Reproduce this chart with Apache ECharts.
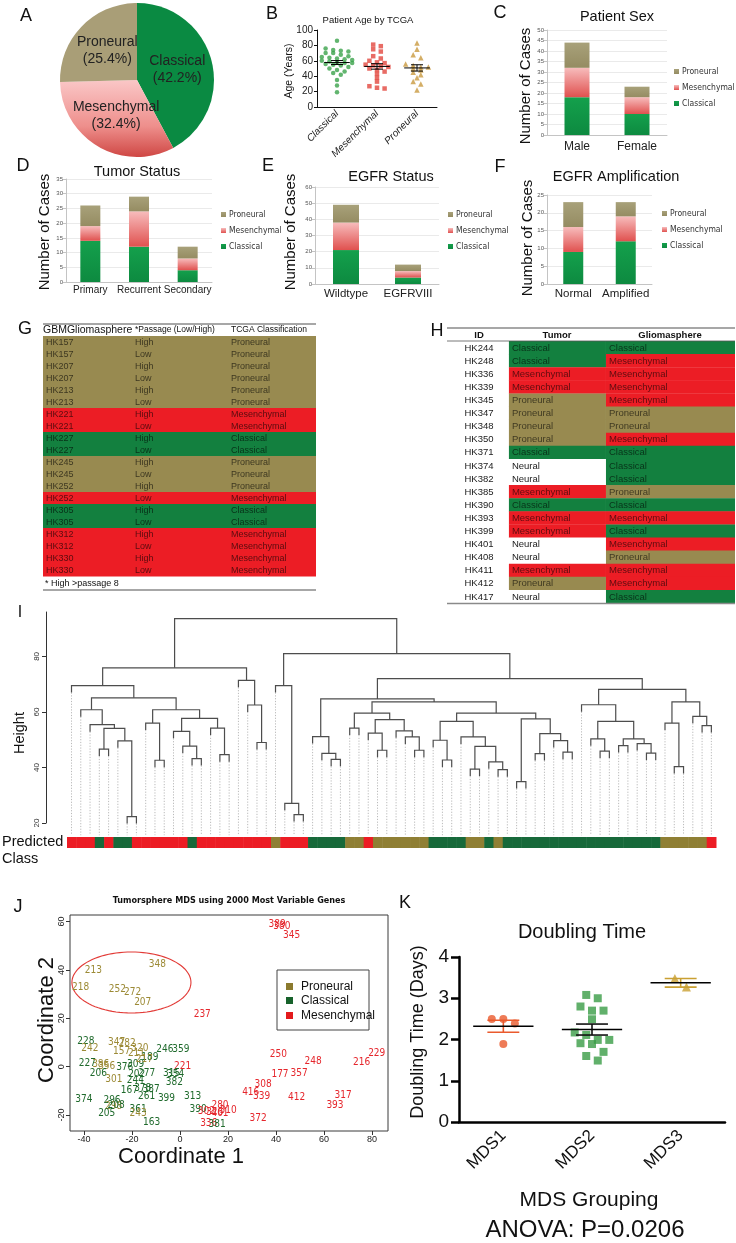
<!DOCTYPE html>
<html>
<head>
<meta charset="utf-8">
<title>Glioblastoma gliomasphere subtype figure</title>
<script src="https://cdn.jsdelivr.net/npm/echarts@6.0.0/dist/echarts.min.js"></script>
<style>
html,body{margin:0;padding:0;background:#ffffff;}
#chart{width:736px;height:1243px;}
</style>
</head>
<body>
<div id="chart"></div>
<script>
// ================= DATA =================
// A: TCGA subtype distribution (%)
const pieNames = ['Classical', 'Mesenchymal', 'Proneural'];
const piePercent = [42.2, 32.4, 25.4];

// B: patient age by TCGA subtype (years)
const ageCategories = ['Classical', 'Mesenchymal', 'Proneural'];
const ageClassical = [86, 76, 74, 73, 72, 70, 70, 68, 66, 65, 64, 63, 62, 61, 60, 59, 58, 57, 57, 56, 55, 54, 52, 50, 48, 46, 44, 42, 35, 28, 19];
const ageMesenchymal = [81, 79, 75, 72, 66, 63, 60, 58, 57, 55, 54, 53, 52, 50, 48, 46, 43, 38, 33, 27, 25, 24];
const ageProneural = [83, 75, 68, 64, 56, 54, 52, 52, 50, 48, 45, 42, 38, 33, 30, 22];

// C: patient sex
const sexCategories = ['Male', 'Female'];
const sexClassical = [18, 10];
const sexMesenchymal = [14, 8];
const sexProneural = [12, 5];

// D: tumor status
const tumorCategories = ['Primary', 'Recurrent', 'Secondary'];
const tumorClassical = [14, 12, 4];
const tumorMesenchymal = [5, 12, 4];
const tumorProneural = [7, 5, 4];

// E: EGFR status
const egfrCategories = ['Wildtype', 'EGFRVIII'];
const egfrClassical = [21, 4];
const egfrMesenchymal = [17, 4];
const egfrProneural = [11, 4];

// F: EGFR amplification
const ampCategories = ['Normal', 'Amplified'];
const ampClassical = [9, 12];
const ampMesenchymal = [7, 7];
const ampProneural = [7, 4];

// G: gliomasphere passage table
const gIds = ['HK157','HK157','HK207','HK207','HK213','HK213','HK221','HK221','HK227','HK227','HK245','HK245','HK252','HK252','HK305','HK305','HK312','HK312','HK330','HK330'];
const gPassage = ['High','Low','High','Low','High','Low','High','Low','High','Low','High','Low','High','Low','High','Low','High','Low','High','Low'];
const gClass = ['Proneural','Proneural','Proneural','Proneural','Proneural','Proneural','Mesenchymal','Mesenchymal','Classical','Classical','Proneural','Proneural','Proneural','Mesenchymal','Classical','Classical','Mesenchymal','Mesenchymal','Mesenchymal','Mesenchymal'];

// H: tumor vs gliomasphere table
const hIds = ['HK244','HK248','HK336','HK339','HK345','HK347','HK348','HK350','HK371','HK374','HK382','HK385','HK390','HK393','HK399','HK401','HK408','HK411','HK412','HK417'];
const hTumor = ['Classical','Classical','Mesenchymal','Mesenchymal','Proneural','Proneural','Proneural','Proneural','Classical','Neural','Neural','Mesenchymal','Classical','Mesenchymal','Mesenchymal','Neural','Neural','Mesenchymal','Proneural','Neural'];
const hSphere = ['Classical','Mesenchymal','Mesenchymal','Mesenchymal','Mesenchymal','Proneural','Proneural','Mesenchymal','Classical','Classical','Classical','Proneural','Classical','Mesenchymal','Classical','Mesenchymal','Proneural','Mesenchymal','Mesenchymal','Classical'];

// I: hierarchical clustering, nested [mergeHeight, left, right]; 0 = leaf
const dendroTree =
[93.6,
  [75.9,
    [69.5, 0,
      [65.1,
        [60.8, 0, [55.4, 0, [54.1, [46.6, 0, 0], [49.6, 0, [22.3, 0, 0]]]]],
        [60.8,
          [56.0, 0, [42.6, 0, 0]],
          [57.7, [53.0, 0, [47.7, 0, [43.2, 0, 0]]], [54.2, 0, [44.6, 0, 0]]]
        ]
      ]
    ],
    [71.4, 0, [62.5, 0, [49.0, 0, 0]]]
  ],
  [81.0,
    [69.5, 0, [27.1, 0, [23.0, 0, 0]]],
    [72.0,
      [64.7,
        [51.1, 0, [45.1, 0, [42.9, 0, 0]]],
        [63.6,
          [59.6, [54.2, 0, 0], [57.2, [52.4, 0, [46.2, 0, 0]], [53.2, 0, [51.0, 0, [46.2, 0, 0]]]]],
          [59.6,
            [56.6, [49.8, 0, [42.7, 0, 0]], [51.0, 0, [47.6, [39.4, 0, 0], [42.0, 0, [39.2, 0, 0]]]]],
            [57.5, [34.9, 0, 0], [52.2, [45.0, 0, 0], [49.7, 0, [45.5, 0, 0]]]]
          ]
        ]
      ],
      [68.1,
        [62.6, 0, [56.6, [50.3, 0, [45.9, 0, 0]], [50.3, [47.9, 0, 0], [48.6, 0, [45.2, 0, 0]]]]],
        [63.6, [56.0, 0, [40.3, 0, 0]], [58.4, 0, [55.1, 0, 0]]]
      ]
    ]
  ]
];
// predicted class per sample (M = Mesenchymal, C = Classical, P = Proneural)
const predictedClass = ['M','M','M','C','M','C','C','M','M','M','M','M','M','C','M','M','M','M','M','M','M','M','P','M','M','M','C','C','C','C','P','P','M','P','P','P','P','P','P','C','C','C','C','P','P','C','P','C','C','C','C','C','C','C','C','C','C','C','C','C','C','C','C','C','P','P','P','P','P','M'];

// J: MDS coordinates of tumorspheres
const mdsLabels = ['389','380','345','213','348','218','252','272','207','237','228','242','347','282','157','320','211','189','246','359','221','227','386','356','206','301','376','309','217','202','244','277','315','354','382','167','378','387','261','399','313','374','296','298','208','205','361','243','163','390','302','326','280','310','401','336','381','372','416','339','308','177','357','250','248','216','229','412','317','393'];
const mdsX = [40.5,42.5,46.5,-36.1,-9.4,-41.4,-26.1,-19.7,-15.5,9.3,-39.2,-37.5,-26.4,-22.0,-24.3,-16.7,-18.1,-12.5,-6.3,0.4,1.1,-38.6,-33.0,-30.5,-34.0,-27.5,-23.0,-18.5,-14.8,-18.0,-18.6,-13.9,-3.5,-1.8,-2.3,-21.1,-15.5,-12.0,-13.9,-5.6,5.3,-40.0,-28.3,-27.6,-26.6,-30.5,-17.4,-17.4,-11.8,7.6,11.0,14.5,16.7,20.1,16.7,12.0,15.5,32.6,29.5,34.0,34.7,41.7,49.7,41.0,55.5,75.7,82.0,48.6,68.0,64.6];
const mdsY = [59.0,58.0,54.4,39.7,42.4,32.8,32.1,30.7,26.6,21.4,10.3,7.6,9.9,9.7,6.2,7.6,5.5,3.9,7.2,7.2,0.3,1.4,0.8,0.3,-2.7,-5.2,-0.2,1.0,2.8,-3.3,-5.6,-2.7,-2.6,-3.0,-6.4,-9.9,-9.0,-9.3,-12.1,-13.1,-12.1,-13.5,-13.9,-16.5,-16.2,-19.3,-17.6,-19.3,-23.1,-17.6,-18.5,-18.8,-16.0,-17.9,-19.5,-23.5,-23.8,-21.3,-10.5,-12.2,-7.3,-3.4,-2.7,5.2,2.1,1.7,5.5,-12.6,-11.7,-16.2];
const mdsClass = ['M','M','M','P','P','P','P','P','P','M','C','P','P','P','P','P','P','C','C','C','M','C','P','P','C','P','C','C','P','C','C','C','C','C','C','C','C','C','C','C','C','C','C','P','C','C','C','P','C','C','M','M','M','M','M','M','C','M','M','M','M','M','M','M','M','M','M','M','M','M'];

// K: doubling time (days)
const doublingCategories = ['MDS1', 'MDS2', 'MDS3'];
const doublingMDS1 = [2.5, 2.39, 2.5, 1.89];
const doublingMDS2 = [3.08, 3.0, 2.8, 2.7, 2.7, 2.49, 2.17, 2.11, 1.99, 1.99, 1.91, 1.89, 1.70, 1.60, 1.49];
const doublingMDS3 = [3.27, 3.48];

// ================= HELPERS =================
const FONT = "'Liberation Sans', Arial, sans-serif";
const NARROW = "'Liberation Sans Narrow', 'DejaVu Sans Condensed', 'Liberation Sans', sans-serif";
const G = echarts.graphic;

const tableColor = { Proneural: '#988a50', Mesenchymal: '#ec1d25', Classical: '#13803f', Neural: '#ffffff' };
const barGreen = new G.LinearGradient(0, 0, 0, 1, [{offset: 0, color: '#14a04c'}, {offset: 1, color: '#0d8a40'}]);
const barPink = new G.LinearGradient(0, 0, 0, 1, [{offset: 0, color: '#f7bcbc'}, {offset: 1, color: '#e0514f'}]);
const barTan = new G.LinearGradient(0, 0, 0, 1, [{offset: 0, color: '#a8a17a'}, {offset: 1, color: '#958c62'}]);

function meanSem(arr) {
  const n = arr.length;
  const m = arr.reduce((a, b) => a + b, 0) / n;
  const sd = Math.sqrt(arr.reduce((a, b) => a + (b - m) * (b - m), 0) / (n - 1));
  return [m, sd / Math.sqrt(n)];
}
// simple beeswarm layout: points of similar value are spread horizontally
function swarm(values, groupIdx, binW, step, maxPer) {
  const sorted = values.slice().sort((a, b) => b - a);
  const bins = [];
  sorted.forEach(v => {
    const last = bins[bins.length - 1];
    if (last && last[0] - v < binW && last.length < maxPer) last.push(v); else bins.push([v]);
  });
  const out = [];
  bins.forEach(b => {
    const n = b.length;
    b.forEach((v, j) => out.push([groupIdx + (j - (n - 1) / 2) * step, v]));
  });
  return out;
}
function T(x, y, text, font, o) {
  o = o || {};
  return { type: 'text', x: x, y: y, rotation: o.rot || 0, silent: true, z: 20,
    style: { text: text, font: font, fill: o.fill || '#111', align: o.align || 'center', verticalAlign: o.va || 'middle' } };
}
function L(x1, y1, x2, y2, color, w) {
  return { type: 'line', silent: true, z: 20, shape: {x1: x1, y1: y1, x2: x2, y2: y2}, style: { stroke: color, lineWidth: w } };
}
function stackBars(stackId, xi, yi, cls, mes, pro, width) {
  const base = { type: 'bar', stack: stackId, xAxisIndex: xi, yAxisIndex: yi, barWidth: width, silent: true };
  return [
    Object.assign({}, base, { name: 'Classical', data: cls, itemStyle: { color: barGreen } }),
    Object.assign({}, base, { name: 'Mesenchymal', data: mes, itemStyle: { color: barPink } }),
    Object.assign({}, base, { name: 'Proneural', data: pro, itemStyle: { color: barTan } })
  ];
}
function excelCatAxis(grid, data, fs, margin) {
  return { gridIndex: grid, type: 'category', data: data,
    axisLine: { lineStyle: { color: '#c4c4c4' } }, axisTick: { show: false },
    axisLabel: { interval: 0, fontSize: fs, color: '#222', margin: margin, fontFamily: FONT } };
}
function excelValAxis(grid, max, interval) {
  return { gridIndex: grid, type: 'value', min: 0, max: max, interval: interval,
    axisLine: { show: true, lineStyle: { color: '#c4c4c4' } },
    axisTick: { show: true, length: 3, lineStyle: { color: '#c4c4c4' } },
    axisLabel: { fontSize: 6, color: '#555', margin: 3, fontFamily: FONT },
    splitLine: { show: true, lineStyle: { color: '#e4e4e4', width: 0.8 } } };
}
function excelLegend(left, top) {
  return { data: ['Proneural', 'Mesenchymal', 'Classical'], orient: 'vertical', left: left, top: top,
    itemWidth: 5, itemHeight: 5, itemGap: 7, icon: 'rect', selectedMode: false,
    textStyle: { fontSize: 8.5, color: '#333', fontFamily: NARROW, padding: [0, 0, 0, -2] } };
}
function meanSemSeries(xi, yi, groups, halfMean, halfCap, colors, lw) {
  return { type: 'custom', xAxisIndex: xi, yAxisIndex: yi, silent: true, z: 5,
    data: groups.map((arr, i) => { const ms = meanSem(arr); return [i, ms[0], ms[1]]; }),
    encode: { x: 0, y: 1 },
    renderItem: function (params, api) {
      const g = api.value(0), m = api.value(1), s = api.value(2);
      const c = colors[params.dataIndex];
      const a1 = api.coord([g - halfMean, m]), a2 = api.coord([g + halfMean, m]);
      const u1 = api.coord([g - halfCap, m + s]), u2 = api.coord([g + halfCap, m + s]);
      const d1 = api.coord([g - halfCap, m - s]), d2 = api.coord([g + halfCap, m - s]);
      const vt = api.coord([g, m + s]), vb = api.coord([g, m - s]);
      const st = { stroke: c, lineWidth: lw };
      return { type: 'group', children: [
        { type: 'line', shape: { x1: vt[0], y1: vt[1], x2: vb[0], y2: vb[1] }, style: st },
        { type: 'line', shape: { x1: u1[0], y1: u1[1], x2: u2[0], y2: u2[1] }, style: st },
        { type: 'line', shape: { x1: d1[0], y1: d1[1], x2: d2[0], y2: d2[1] }, style: st },
        { type: 'line', shape: { x1: a1[0], y1: a1[1], x2: a2[0], y2: a2[1] }, style: { stroke: '#000', lineWidth: lw } }
      ] };
    } };
}

// dendrogram layout from nested tree
const HANG = 2.5;
const dendroNodes = [];
const dendroLeaves = [];
(function () {
  let counter = 0;
  function walk(n, parentH) {
    if (n === 0) { const x = counter++; dendroLeaves.push([x, parentH - HANG]); return { x: x, h: parentH - HANG }; }
    const h = n[0];
    const a = walk(n[1], h), b = walk(n[2], h);
    dendroNodes.push([a.x, a.h, b.x, b.h, h]);
    return { x: (a.x + b.x) / 2, h: h };
  }
  walk(dendroTree, 0);
})();
const classBarColor = { M: '#ec1c24', C: '#17693a', P: '#8f7f34' };
const mdsColor = { P: '#9c8a35', C: '#1f6a2c', M: '#e5262c' };

// ================= CHART =================
const chart = echarts.init(document.getElementById('chart'), null, { renderer: 'canvas', width: 736, height: 1243 });

const grids = [
  { left: 317, top: 30, width: 120, height: 77 },   // 0 B
  { left: 547, top: 30, width: 120, height: 105 },  // 1 C
  { left: 66, top: 179, width: 146, height: 103 },  // 2 D
  { left: 315, top: 187, width: 124, height: 97 },  // 3 E
  { left: 547, top: 195, width: 105, height: 89 },  // 4 F
  { left: 43, top: 336, width: 273, height: 240 },  // 5 G
  { left: 447, top: 341, width: 288, height: 262 }, // 6 H
  { left: 46, top: 612, width: 670, height: 211 },  // 7 dendrogram
  { left: 67, top: 837, width: 649, height: 11 },   // 8 class bar
  { left: 70, top: 915, width: 318, height: 216, show: true, borderColor: '#3a3a3a', borderWidth: 1 }, // 9 J
  { left: 459, top: 957, width: 266, height: 165 }  // 10 K
];

const blackAxis = { lineStyle: { color: '#111', width: 1 } };

const xAxes = [
  { gridIndex: 0, type: 'category', data: ageCategories, axisLine: blackAxis,
    axisTick: { alignWithLabel: true, length: 4, lineStyle: { color: '#111' } },
    axisLabel: { interval: 0, rotate: 45, fontStyle: 'italic', fontSize: 10, color: '#222', margin: 5, fontFamily: FONT } },
  { gridIndex: 0, type: 'value', min: -0.5, max: 2.5, show: false },
  excelCatAxis(1, sexCategories, 12, 6),
  excelCatAxis(2, tumorCategories, 10, 3),
  excelCatAxis(3, egfrCategories, 11.5, 4),
  excelCatAxis(4, ampCategories, 11.5, 4),
  { gridIndex: 5, type: 'value', min: 0, max: 1, show: false },
  { gridIndex: 6, type: 'value', min: 0, max: 1, show: false },
  { gridIndex: 7, type: 'value', min: -2.75, max: 69.5, show: false },
  { gridIndex: 8, type: 'category', data: predictedClass.map((c, i) => String(i)), show: false },
  { gridIndex: 9, type: 'value', min: -45.8, max: 86.7, splitLine: { show: false },
    axisLine: { show: false, onZero: false },
    axisTick: { show: true, length: 4, lineStyle: { color: '#333' }, customValues: [-40, -20, 0, 20, 40, 60, 80] },
    axisLabel: { fontSize: 9, color: '#222', margin: 4, fontFamily: FONT, customValues: [-40, -20, 0, 20, 40, 60, 80] } },
  { gridIndex: 10, type: 'category', data: doublingCategories,
    axisLine: { lineStyle: { color: '#000', width: 2.5 } },
    axisTick: { alignWithLabel: true, length: 8, lineStyle: { color: '#000', width: 2.5 } },
    axisLabel: { interval: 0, rotate: 45, fontSize: 17, color: '#111', margin: 11, fontFamily: FONT } },
  { gridIndex: 10, type: 'value', min: -0.5, max: 2.5, show: false }
];

const yAxes = [
  { gridIndex: 0, type: 'value', min: 0, max: 100, interval: 20, axisLine: { show: true, onZero: false, lineStyle: { color: '#111' } },
    axisTick: { show: true, length: 3, lineStyle: { color: '#111' } }, splitLine: { show: false },
    axisLabel: { fontSize: 10, color: '#222', margin: 4, fontFamily: FONT } },
  excelValAxis(1, 50, 5),
  excelValAxis(2, 35, 5),
  excelValAxis(3, 60, 10),
  excelValAxis(4, 25, 5),
  { gridIndex: 5, type: 'category', data: gIds.map((d, i) => String(i)), inverse: true, show: false },
  { gridIndex: 6, type: 'category', data: hIds.map((d, i) => String(i)), inverse: true, show: false },
  { gridIndex: 7, type: 'value', min: 20, max: 96, splitLine: { show: false },
    axisLine: { show: true, onZero: false, lineStyle: { color: '#333', width: 1 } },
    axisTick: { show: true, length: 4, lineStyle: { color: '#333' }, customValues: [20, 40, 60, 80] },
    axisLabel: { rotate: 90, fontSize: 8, color: '#333', margin: 5, fontFamily: FONT, customValues: [20, 40, 60, 80] } },
  { gridIndex: 8, type: 'value', min: 0, max: 1, show: false },
  { gridIndex: 9, type: 'value', min: -26.6, max: 62.7, splitLine: { show: false }, axisLine: { show: false, onZero: false },
    axisTick: { show: true, length: 4, lineStyle: { color: '#333' }, customValues: [-20, 0, 20, 40, 60] },
    axisLabel: { rotate: 90, fontSize: 9, color: '#222', margin: 4, fontFamily: FONT, customValues: [-20, 0, 20, 40, 60] } },
  { gridIndex: 10, type: 'value', min: 0, max: 4, interval: 1, splitLine: { show: false },
    axisLine: { show: true, onZero: false, lineStyle: { color: '#000', width: 2.5 } },
    axisTick: { show: true, length: 8, lineStyle: { color: '#000', width: 2.5 } },
    axisLabel: { fontSize: 19, color: '#111', margin: 10, fontFamily: FONT } }
];

const pieColors = ['#0a8a42',
  new G.LinearGradient(0, 0, 0, 1, [{offset: 0, color: '#fac7c7'}, {offset: 0.6, color: '#ee8f8c'}, {offset: 1, color: '#cf4744'}]),
  '#a99e77'];

const series = [];
// A pie
series.push({ type: 'pie', name: 'Subtype', center: [137, 80], radius: 77, startAngle: 90, clockwise: true, silent: true,
  data: pieNames.map((n, i) => ({ name: n, value: piePercent[i], itemStyle: { color: pieColors[i] } })),
  label: { show: true, position: 'inside', fontSize: 14, lineHeight: 17, color: '#222', fontFamily: FONT,
    formatter: p => p.name + '\n(' + p.value.toFixed(1) + '%)' },
  labelLine: { show: false } });

// B scatter
const ageGroups = [ageClassical, ageMesenchymal, ageProneural];
const ageSym = ['circle', 'rect', 'triangle'];
const ageSize = [4.5, 4.5, 5.5];
const ageCol = ['#3ba34b', '#e2473f', '#c99a40'];
ageGroups.forEach((arr, gi) => {
  series.push({ type: 'scatter', name: 'age' + gi, xAxisIndex: 1, yAxisIndex: 0, silent: true,
    symbol: ageSym[gi], symbolSize: ageSize[gi], itemStyle: { color: ageCol[gi] },
    data: swarm(arr, gi, 5, 0.19, 5) });
});
series.push(meanSemSeries(1, 0, ageGroups, 0.32, 0.15, ['#000', '#000', '#000'], 1));

// C-F stacked bars
series.push.apply(series, stackBars('c', 2, 1, sexClassical, sexMesenchymal, sexProneural, 25));
series.push.apply(series, stackBars('d', 3, 2, tumorClassical, tumorMesenchymal, tumorProneural, 20));
series.push.apply(series, stackBars('e', 4, 3, egfrClassical, egfrMesenchymal, egfrProneural, 26));
series.push.apply(series, stackBars('f', 5, 4, ampClassical, ampMesenchymal, ampProneural, 20));

// G table
series.push({ type: 'custom', xAxisIndex: 6, yAxisIndex: 5, silent: true,
  data: gIds.map((d, i) => [0, i]), encode: { x: 0, y: 1 },
  renderItem: function (params, api) {
    const i = params.dataIndex;
    const p0 = api.coord([0, i]), p1 = api.coord([1, i]);
    const h = api.size([0, 1])[1];
    const txt = (f, s) => ({ type: 'text', x: api.coord([f, i])[0], y: p0[1] + 0.5,
      style: { text: s, fill: 'rgba(0,0,0,0.62)', font: '9px ' + FONT, align: 'left', verticalAlign: 'middle' } });
    return { type: 'group', children: [
      { type: 'rect', shape: { x: p0[0], y: p0[1] - h / 2, width: p1[0] - p0[0], height: h + 0.4 }, style: { fill: tableColor[gClass[i]] } },
      txt(0.011, gIds[i]), txt(0.337, gPassage[i]), txt(0.689, gClass[i])
    ] };
  } });

// H table
series.push({ type: 'custom', xAxisIndex: 7, yAxisIndex: 6, silent: true,
  data: hIds.map((d, i) => [0, i]), encode: { x: 0, y: 1 },
  renderItem: function (params, api) {
    const i = params.dataIndex;
    const h = api.size([0, 1])[1];
    const y = api.coord([0, i])[1];
    const xb = [0, 0.215, 0.552, 1].map(f => api.coord([f, i])[0]);
    const cell = (k, cls) => ({ type: 'rect', shape: { x: xb[k], y: y - h / 2, width: xb[k + 1] - xb[k], height: h + 0.4 }, style: { fill: tableColor[cls] } });
    const txt = (x, s, cls, align) => ({ type: 'text', x: x, y: y + 0.5,
      style: { text: s, fill: cls === 'Neural' || cls === null ? '#222' : 'rgba(0,0,0,0.6)', font: '9.5px ' + FONT, align: align, verticalAlign: 'middle' } });
    return { type: 'group', children: [
      cell(1, hTumor[i]), cell(2, hSphere[i]),
      txt(api.coord([0.111, i])[0], hIds[i], null, 'center'),
      txt(xb[1] + 3, hTumor[i], hTumor[i], 'left'),
      txt(xb[2] + 3, hSphere[i], hSphere[i], 'left')
    ] };
  } });

// I dendrogram: dotted leaf extensions
series.push({ type: 'custom', xAxisIndex: 8, yAxisIndex: 7, silent: true, clip: false,
  data: dendroLeaves, encode: { x: 0, y: 1 },
  renderItem: function (params, api) {
    const a = api.coord([api.value(0), api.value(1)]);
    const b = api.coord([api.value(0), 15.6]);
    return { type: 'line', shape: { x1: a[0], y1: a[1], x2: b[0], y2: b[1] }, style: { stroke: '#a8a8a8', lineWidth: 0.8, lineDash: [1.2, 1.6] } };
  } });
// I dendrogram: merges
series.push({ type: 'custom', xAxisIndex: 8, yAxisIndex: 7, silent: true, clip: false,
  data: dendroNodes, encode: { x: [0, 2], y: [1, 3, 4] },
  renderItem: function (params, api) {
    const a = api.coord([api.value(0), api.value(1)]);
    const b = api.coord([api.value(0), api.value(4)]);
    const c = api.coord([api.value(2), api.value(4)]);
    const d = api.coord([api.value(2), api.value(3)]);
    return { type: 'polyline', shape: { points: [a, b, c, d] }, style: { stroke: '#4d4d4d', lineWidth: 1.2, fill: null } };
  } });
// predicted class bar
series.push({ type: 'custom', xAxisIndex: 9, yAxisIndex: 8, silent: true,
  data: predictedClass.map((c, i) => [i, 1]), encode: { x: 0, y: 1 },
  renderItem: function (params, api) {
    const i = params.dataIndex;
    const top = api.coord([i, 1]), bot = api.coord([i, 0]);
    const w = api.size([1, 1])[0];
    return { type: 'rect', shape: { x: top[0] - w / 2, y: top[1], width: w + 0.5, height: bot[1] - top[1] }, style: { fill: classBarColor[predictedClass[i]] } };
  } });

// J: ellipse annotation around the proneural cluster (data units)
const ELL = { cx: -20.2, cy: 34.8, rx: 24.8, ry: 12.6 };
series.push({ type: 'custom', xAxisIndex: 10, yAxisIndex: 9, silent: true,
  data: [[ELL.cx, ELL.cy]], encode: { x: 0, y: 1 },
  renderItem: function (params, api) {
    const pts = [];
    for (let k = 0; k <= 96; k++) {
      const t = k / 96 * Math.PI * 2;
      pts.push(api.coord([ELL.cx + ELL.rx * Math.cos(t), ELL.cy + ELL.ry * Math.sin(t)]));
    }
    return { type: 'polyline', shape: { points: pts }, style: { stroke: '#e23a36', lineWidth: 1.1, fill: null } };
  } });
// J: sample labels
series.push({ type: 'custom', xAxisIndex: 10, yAxisIndex: 9, silent: true,
  data: mdsLabels.map((s, i) => [mdsX[i], mdsY[i]]), encode: { x: 0, y: 1 },
  renderItem: function (params, api) {
    const i = params.dataIndex;
    const p = api.coord([api.value(0), api.value(1)]);
    return { type: 'text', x: p[0], y: p[1], style: { text: mdsLabels[i], fill: mdsColor[mdsClass[i]], font: '10px ' + NARROW, align: 'center', verticalAlign: 'middle' } };
  } });

// K scatter
const dGroups = [doublingMDS1, doublingMDS2, doublingMDS3];
const dSym = ['circle', 'rect', 'triangle'];
const dCol = ['#ea5a2d', '#3a9c46', '#c9a032'];
dGroups.forEach((arr, gi) => {
  series.push({ type: 'scatter', name: 'dt' + gi, xAxisIndex: 12, yAxisIndex: 10, silent: true,
    symbol: dSym[gi], symbolSize: gi === 2 ? 9 : 8, itemStyle: { color: dCol[gi] },
    data: swarm(arr, gi, 0.25, 0.13, 4) });
});
series.push(meanSemSeries(12, 10, dGroups, 0.34, 0.18, ['#ea5a2d', '#111', '#c9a032'], 1.6));

// ================= TEXT / DECORATION =================
const F18 = '18px ' + FONT;
const gfx = [
  // panel letters
  T(26, 16, 'A', F18), T(272, 14, 'B', F18), T(500, 13, 'C', F18),
  T(23, 166, 'D', F18), T(268, 166, 'E', F18), T(500, 167, 'F', F18),
  T(25, 329, 'G', F18), T(437, 331, 'H', F18), T(20, 613, 'I', '16px ' + FONT),
  T(18, 907, 'J', F18), T(405, 903, 'K', F18),
  // titles
  T(368, 20, 'Patient Age by TCGA', '9.5px ' + FONT),
  T(617, 17, 'Patient Sex', '14.5px ' + FONT),
  T(137, 172, 'Tumor Status', '14.5px ' + FONT),
  T(391, 177, 'EGFR Status', '14.5px ' + FONT),
  T(616, 177, 'EGFR Amplification', '14.5px ' + FONT),
  T(229, 901, 'Tumorsphere MDS using 2000 Most Variable Genes', 'bold 9px ' + NARROW),
  T(582, 932, 'Doubling Time', '20px ' + FONT),
  // axis titles
  T(289, 71, 'Age (Years)', '10.5px ' + FONT, { rot: Math.PI / 2 }),
  T(526, 86, 'Number of Cases', '15px ' + FONT, { rot: Math.PI / 2 }),
  T(45, 232, 'Number of Cases', '15px ' + FONT, { rot: Math.PI / 2 }),
  T(291, 232, 'Number of Cases', '15px ' + FONT, { rot: Math.PI / 2 }),
  T(528, 238, 'Number of Cases', '15px ' + FONT, { rot: Math.PI / 2 }),
  T(20, 733, 'Height', '14.5px ' + FONT, { rot: Math.PI / 2 }),
  T(2, 842, 'Predicted', '14.5px ' + FONT, { align: 'left' }),
  T(2, 859, 'Class', '14.5px ' + FONT, { align: 'left' }),
  T(47, 1020, 'Coordinate 2', '22px ' + FONT, { rot: Math.PI / 2 }),
  T(181, 1157, 'Coordinate 1', '22px ' + FONT),
  T(418, 1032, 'Doubling Time (Days)', '18px ' + FONT, { rot: Math.PI / 2 }),
  T(589, 1200, 'MDS Grouping', '21px ' + FONT),
  T(585, 1230, 'ANOVA: P=0.0206', '24px ' + FONT),
  // G table frame
  L(43, 324, 316, 324, '#8a8a8a', 1.5),
  T(43, 330, 'GBMGliomasphere', '10.5px ' + FONT, { align: 'left' }),
  T(135, 330, '*Passage (Low/High)', '8.5px ' + FONT, { align: 'left' }),
  T(231, 330, 'TCGA Classification', '8.5px ' + FONT, { align: 'left' }),
  T(45, 584, '* High >passage 8', '9px ' + FONT, { align: 'left' }),
  L(43, 590, 316, 590, '#8a8a8a', 1.5),
  // H table frame
  L(447, 328, 735, 328, '#8a8a8a', 1.5),
  T(479, 335, 'ID', 'bold 9.5px ' + FONT),
  T(557, 335, 'Tumor', 'bold 9.5px ' + FONT),
  T(670, 335, 'Gliomasphere', 'bold 9.5px ' + FONT),
  L(447, 341, 735, 341, '#555', 0.8),
  L(447, 603.5, 735, 603.5, '#8a8a8a', 1.5),
  // J legend
  { type: 'rect', silent: true, z: 20, shape: { x: 277, y: 970, width: 92, height: 60 }, style: { fill: '#fff', stroke: '#444', lineWidth: 1 } },
  { type: 'rect', silent: true, z: 21, shape: { x: 286, y: 983, width: 7, height: 7 }, style: { fill: '#8b7a2e' } },
  { type: 'rect', silent: true, z: 21, shape: { x: 286, y: 997, width: 7, height: 7 }, style: { fill: '#17622b' } },
  { type: 'rect', silent: true, z: 21, shape: { x: 286, y: 1012, width: 7, height: 7 }, style: { fill: '#e31a1c' } },
  T(301, 986.5, 'Proneural', '12px ' + FONT, { align: 'left' }),
  T(301, 1000.5, 'Classical', '12px ' + FONT, { align: 'left' }),
  T(301, 1015.5, 'Mesenchymal', '12px ' + FONT, { align: 'left' })
];

chart.setOption({
  animation: false,
  backgroundColor: '#ffffff',
  textStyle: { fontFamily: FONT },
  grid: grids,
  xAxis: xAxes,
  yAxis: yAxes,
  legend: [excelLegend(669, 62), excelLegend(216, 205), excelLegend(443, 205), excelLegend(657, 204)],
  series: series,
  graphic: { elements: gfx }
});
</script>
</body>
</html>
